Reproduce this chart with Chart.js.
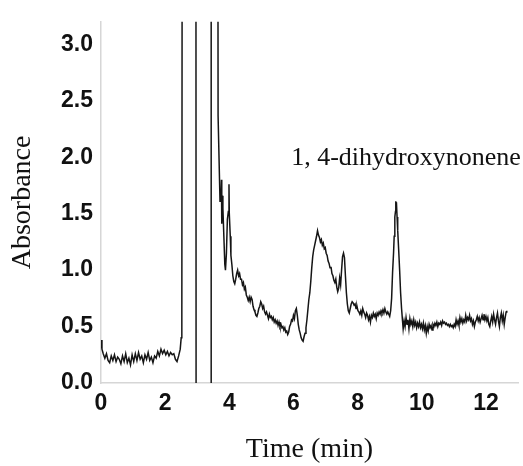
<!DOCTYPE html>
<html>
<head>
<meta charset="utf-8">
<script src="https://cdn.jsdelivr.net/npm/chart.js@4/dist/chart.umd.min.js"></script>
<style>
html,body{margin:0;padding:0;background:#fff;}
canvas{display:block;}
</style>
</head>
<body>
<canvas id="c" width="523" height="466"></canvas>
<script>
// Chromatogram trace (time in min, absorbance)
const timeMin = [
0.00,0.03,0.07,0.12,0.17,0.22,0.27,0.32,0.37,0.42,0.47,0.52,0.57,0.62,0.67,0.72,0.77,0.82,0.87,0.92,0.97,
1.02,1.07,1.12,1.17,1.22,1.27,1.32,1.37,1.42,1.47,1.52,1.57,1.62,1.67,1.72,1.77,1.82,1.87,1.92,1.97,
2.02,2.07,2.12,2.17,2.22,2.27,2.32,2.37,2.42,2.47,2.50,2.52,2.53,2.96,2.965,3.43,3.435,3.645,3.65,3.71,
3.74,3.755,3.765,3.78,3.80,3.83,3.86,3.88,3.91,3.94,3.97,3.99,4.00,4.03,4.05,4.08,4.11,4.14,4.17,4.20,
4.23,4.26,4.29,4.32,4.35,4.38,4.41,4.44,4.47,4.50,4.53,4.56,4.59,4.62,4.65,4.68,4.71,4.74,4.77,4.80,
4.83,4.86,4.89,4.92,4.95,4.98,5.01,5.04,5.07,5.10,5.13,5.16,5.19,5.22,5.25,5.28,5.31,5.34,5.37,5.40,
5.43,5.46,5.49,5.52,5.55,5.58,5.61,5.64,5.67,5.70,5.73,5.76,5.79,5.82,5.85,5.88,5.91,5.94,5.97,6.00,
6.03,6.06,6.09,6.12,6.15,6.18,6.21,6.24,6.27,6.30,6.33,6.36,6.39,6.42,6.45,6.48,6.51,6.54,6.57,6.60,
6.63,6.66,6.69,6.72,6.75,6.78,6.81,6.84,6.87,6.90,6.93,6.96,6.99,7.02,7.05,7.08,7.11,7.14,7.17,7.20,
7.23,7.26,7.29,7.32,7.35,7.38,7.41,7.44,7.47,7.50,7.53,7.56,7.59,7.62,7.65,7.68,7.71,7.74,7.77,7.80,
7.83,7.86,7.89,7.92,7.95,7.98,8.01,8.04,8.07,8.10,8.13,8.16,8.19,8.22,8.25,8.28,8.31,8.34,8.37,8.40,
8.43,8.46,8.49,8.52,8.55,8.58,8.61,8.64,8.67,8.70,8.73,8.76,8.79,8.82,8.85,8.88,8.91,8.94,8.97,9.00,
9.03,9.06,9.09,9.12,9.14,9.16,9.18,9.19,9.20,9.21,9.23,9.25,9.28,9.31,9.34,9.37,9.40,9.42,9.45,9.48,
9.51,9.54,9.57,9.60,9.63,9.66,9.69,9.72,9.75,9.78,9.81,9.84,9.87,9.90,9.93,9.96,9.99,10.02,10.05,10.08,
10.11,10.14,10.17,10.20,10.23,10.26,10.29,10.32,10.35,10.38,10.41,10.44,10.47,10.50,10.53,10.56,10.59,10.62,10.65,10.68,
10.71,10.74,10.77,10.80,10.83,10.86,10.89,10.92,10.95,10.98,11.01,11.04,11.07,11.10,11.13,11.16,11.19,11.22,11.25,11.28,
11.31,11.34,11.37,11.40,11.43,11.46,11.49,11.52,11.55,11.58,11.61,11.64,11.67,11.70,11.73,11.76,11.79,11.82,11.85,11.88,
11.91,11.94,11.97,12.00,12.03,12.06,12.09,12.12,12.15,12.18,12.21,12.24,12.27,12.30,12.33,12.36,12.39,12.42,12.45,12.48,
12.51,12.54,12.57,12.60,12.63,12.65
];
const absorbance = [
0.38,0.30,0.26,0.22,0.26,0.20,0.18,0.24,0.20,0.25,0.19,0.23,0.21,0.17,0.24,0.19,0.26,0.18,0.22,0.16,0.25,
0.19,0.26,0.20,0.27,0.21,0.24,0.18,0.25,0.21,0.27,0.20,0.23,0.18,0.24,0.22,0.28,0.24,0.30,0.26,0.29,
0.25,0.28,0.24,0.27,0.25,0.26,0.21,0.19,0.24,0.30,0.40,0.55,4.00,4.00,-0.50,-0.50,4.00,4.00,2.37,1.61,
1.62,1.80,1.41,1.66,1.55,1.30,1.05,1.00,1.15,1.45,1.52,1.76,1.50,1.30,1.13,1.05,0.95,0.90,0.88,0.92,
0.97,1.00,0.95,0.97,0.92,0.92,0.87,0.89,0.83,0.85,0.78,0.76,0.73,0.76,0.72,0.76,0.74,0.68,0.65,0.63,
0.60,0.59,0.62,0.66,0.68,0.72,0.70,0.66,0.68,0.63,0.61,0.63,0.60,0.57,0.61,0.58,0.59,0.56,0.58,0.54,
0.56,0.53,0.55,0.51,0.54,0.50,0.52,0.49,0.50,0.47,0.49,0.45,0.46,0.43,0.45,0.50,0.52,0.56,0.55,0.60,
0.57,0.64,0.66,0.60,0.52,0.47,0.44,0.40,0.38,0.37,0.41,0.44,0.49,0.56,0.65,0.74,0.80,0.90,1.02,1.12,
1.18,1.22,1.26,1.30,1.35,1.31,1.29,1.25,1.27,1.22,1.24,1.19,1.20,1.15,1.13,1.08,1.06,1.02,1.03,0.97,
0.95,0.91,0.89,0.92,0.85,0.81,0.84,0.93,0.87,1.00,1.12,1.15,1.11,0.95,0.80,0.70,0.64,0.62,0.66,0.70,
0.72,0.71,0.69,0.70,0.66,0.68,0.64,0.63,0.61,0.64,0.60,0.66,0.63,0.61,0.58,0.62,0.60,0.56,0.59,0.54,
0.60,0.58,0.62,0.59,0.61,0.57,0.62,0.60,0.63,0.61,0.64,0.62,0.65,0.62,0.66,0.63,0.61,0.63,0.61,0.59,
0.64,0.75,0.98,1.15,1.30,1.47,1.52,1.61,1.55,1.60,1.47,1.35,1.18,1.00,0.80,0.66,0.55,0.48,0.55,0.50,
0.58,0.52,0.56,0.48,0.57,0.52,0.55,0.50,0.56,0.51,0.54,0.49,0.53,0.50,0.54,0.49,0.52,0.48,0.53,0.47,
0.51,0.44,0.50,0.46,0.52,0.49,0.51,0.47,0.52,0.50,0.53,0.51,0.54,0.50,0.53,0.52,0.54,0.51,0.55,0.53,
0.54,0.52,0.53,0.51,0.52,0.50,0.52,0.50,0.51,0.49,0.52,0.50,0.56,0.52,0.55,0.51,0.58,0.54,0.57,0.53,
0.56,0.54,0.60,0.55,0.58,0.56,0.60,0.55,0.57,0.52,0.55,0.50,0.54,0.56,0.59,0.55,0.58,0.54,0.57,0.60,
0.56,0.61,0.56,0.59,0.55,0.58,0.52,0.50,0.55,0.59,0.54,0.61,0.56,0.52,0.58,0.62,0.55,0.50,0.58,0.62,
0.55,0.60,0.52,0.58,0.63,0.64
];
const xTicks = [0, 2, 4, 6, 8, 10, 12];
const yTicks = [0.0, 0.5, 1.0, 1.5, 2.0, 2.5, 3.0];
const peakLabel = "1, 4-dihydroxynonene";
const xTitle = "Time (min)";
const yTitle = "Absorbance";

const points = timeMin.map((t, i) => ({x: t, y: absorbance[i]}));

const labelPlugin = {
  id: 'peakLabel',
  afterDatasetsDraw(chart) {
    const ctx = chart.ctx;
    ctx.save();
    ctx.font = '26px "Liberation Serif", "Times New Roman", serif';
    ctx.fillStyle = '#111';
    ctx.textAlign = 'center';
    ctx.textBaseline = 'alphabetic';
    ctx.fillText(peakLabel, 406, 165);
    ctx.restore();
  }
};

new Chart(document.getElementById('c'), {
  type: 'line',
  data: {
    datasets: [{
      data: points,
      borderColor: '#151515',
      borderWidth: 1.5,
      pointRadius: 0,
      tension: 0,
      fill: false
    }]
  },
  options: {
    responsive: false,
    animation: false,
    devicePixelRatio: 1,
    layout: {padding: {left: 0, right: 5, top: 14, bottom: 0}},
    plugins: {legend: {display: false}, tooltip: {enabled: false}},
    scales: {
      x: {
        type: 'linear',
        min: 0, max: 13,
        afterBuildTicks: s => { s.ticks = xTicks.map(v => ({value: v})); },
        afterFit: s => { s.height = 83; },
        grid: {display: false, drawTicks: false},
        border: {display: true, color: '#d6d6d6', width: 1.5},
        ticks: {
          padding: 7,
          color: '#111',
          font: {family: '"Liberation Sans", Arial, sans-serif', size: 23, weight: 'bold'},
          callback: v => String(v),
          maxRotation: 0
        },
        title: {
          display: true, text: xTitle, color: '#111',
          font: {family: '"Liberation Serif", "Times New Roman", serif', size: 28},
          padding: {top: 0, bottom: 0}
        }
      },
      y: {
        type: 'linear',
        min: 0, max: 3.2,
        afterBuildTicks: s => { s.ticks = yTicks.map(v => ({value: v})); },
        afterFit: s => { s.width = 101; },
        grid: {display: false, drawTicks: false},
        border: {display: true, color: '#d6d6d6', width: 1.5},
        ticks: {
          padding: 8,
          color: '#111',
          font: {family: '"Liberation Sans", Arial, sans-serif', size: 23, weight: 'bold'},
          callback: v => Number(v).toFixed(1)
        },
        title: {
          display: true, text: yTitle, color: '#111',
          font: {family: '"Liberation Serif", "Times New Roman", serif', size: 28},
          padding: {top: 6, bottom: 0}
        }
      }
    }
  },
  plugins: [labelPlugin]
});
</script>
</body>
</html>
